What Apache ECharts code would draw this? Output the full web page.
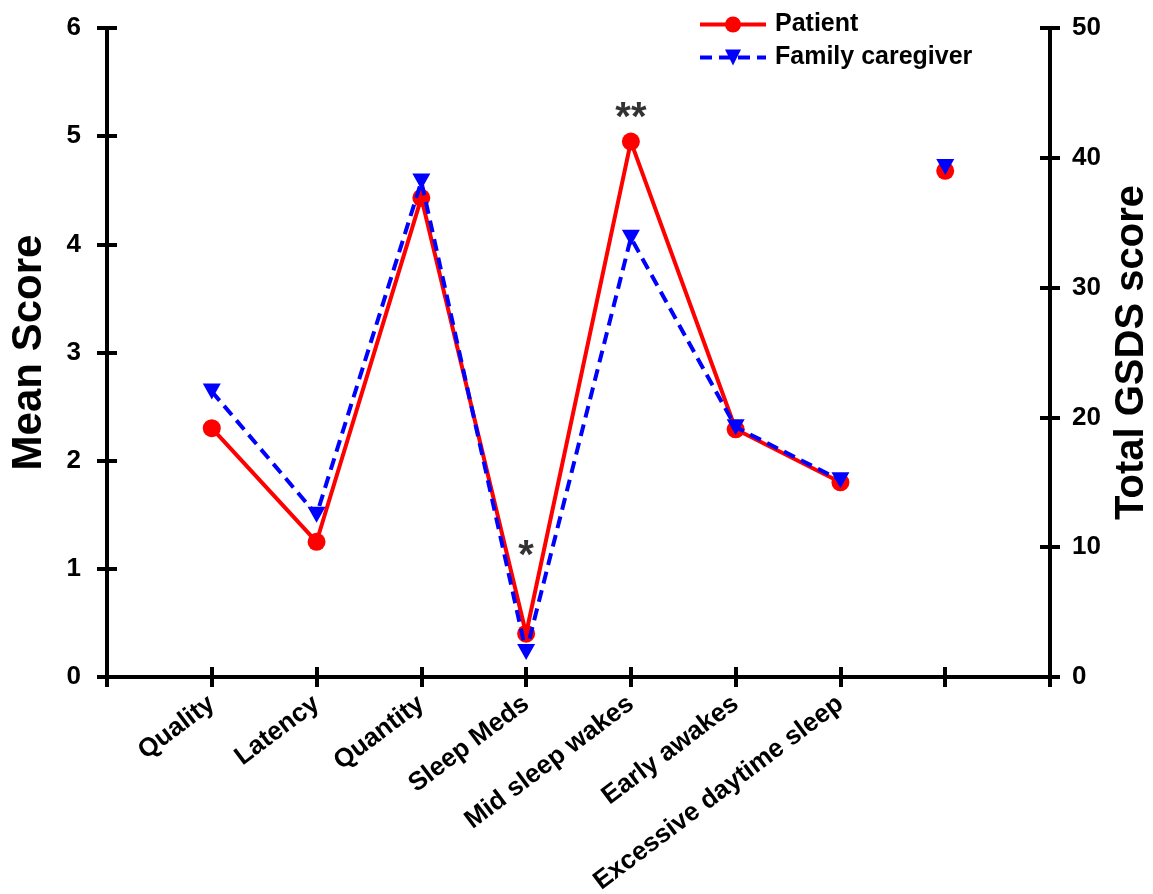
<!DOCTYPE html>
<html>
<head>
<meta charset="utf-8">
<script src="https://cdn.jsdelivr.net/npm/echarts@6/dist/echarts.min.js"></script>
<style>html,body{margin:0;padding:0;background:#fff}#chart{width:1153px;height:894px}</style>
</head>
<body>
<div id="chart"></div>
<script>
// ---- data ----
const categories = ['Quality', 'Latency', 'Quantity', 'Sleep Meds', 'Mid sleep wakes', 'Early awakes', 'Excessive daytime sleep'];
const patientScores = [2.30, 1.25, 4.43, 0.40, 4.95, 2.29, 1.80];
const caregiverScores = [2.64, 1.50, 4.58, 0.23, 4.06, 2.31, 1.82];
const totalGSDSLabelIndex = 8;           // slot on the x axis holding the total score
const patientTotalGSDS = 39.0;
const caregiverTotalGSDS = 39.3;
const sigLabels = ['', '', '', '*', '**', '', ''];
const sigLevels = [null, null, null, 1.11, 5.16, null, null];
const leftAxisRange = [0, 6, 1];
const rightAxisRange = [0, 50, 10];
const xAxisRange = [0, 9, 1];

const FONT = 'Liberation Sans, Arial, sans-serif';
const pts = arr => arr.map((v, i) => [i + 1, v]);
const sigData = sigLevels.map((v, i) => v == null ? null : { value: [i + 1, v], label: { formatter: sigLabels[i] } }).filter(Boolean);

const baseY = (range, pos, withLine) => ({
  type: 'value', position: pos, min: range[0], max: range[1], interval: range[2],
  splitLine: { show: false },
  axisLine: { show: withLine, onZero: false, lineStyle: { color: '#000', width: 4 } }
});

const chart = echarts.init(document.getElementById('chart'));
chart.setOption({
  animation: false,
  backgroundColor: '#fff',
  grid: { left: 107, right: 103, top: 28, bottom: 217, containLabel: false, outerBoundsMode: 'none' },
  legend: {
    orient: 'vertical', left: 693, top: 7, itemWidth: 66, itemHeight: 20, itemGap: 8,
    lineStyle: { width: 4 },
    textStyle: { fontFamily: FONT, fontWeight: 'bold', fontSize: 25, color: '#000', padding: [0, 0, 0, 4] },
    data: ['Patient', 'Family caregiver']
  },
  xAxis: [
    {
      type: 'value', min: xAxisRange[0], max: xAxisRange[1], interval: xAxisRange[2], position: 'bottom',
      splitLine: { show: false },
      axisLine: { onZero: false, lineStyle: { color: '#000', width: 4 } },
      axisTick: { length: 10, lineStyle: { color: '#000', width: 4 } },
      axisLabel: {
        rotate: 37, margin: 24, fontFamily: FONT, fontWeight: 'bold', fontSize: 26, color: '#000',
        formatter: v => categories[v - 1] || '', showMinLabel: true, showMaxLabel: true
      }
    },
    {
      type: 'value', min: xAxisRange[0], max: xAxisRange[1], interval: xAxisRange[2], position: 'bottom',
      splitLine: { show: false }, axisLine: { show: false, onZero: false },
      axisTick: { inside: true, length: 10, lineStyle: { color: '#000', width: 4 } },
      axisLabel: { show: false }
    }
  ],
  yAxis: [
    Object.assign(baseY(leftAxisRange, 'left', true), {
      name: 'Mean Score', nameLocation: 'middle', nameRotate: 90, nameGap: 57,
      nameTextStyle: { fontFamily: FONT, fontWeight: 'bold', fontSize: 42, color: '#000' },
      axisTick: { length: 10, lineStyle: { color: '#000', width: 4 } },
      axisLabel: { margin: 26, fontFamily: FONT, fontWeight: 'bold', fontSize: 26, color: '#000' }
    }),
    Object.assign(baseY(rightAxisRange, 'right', true), {
      name: 'Total GSDS score', nameLocation: 'middle', nameRotate: 90, nameGap: 60,
      nameTextStyle: { fontFamily: FONT, fontWeight: 'bold', fontSize: 40, color: '#000' },
      axisTick: { length: 10, lineStyle: { color: '#000', width: 4 } },
      axisLabel: { margin: 22, fontFamily: FONT, fontWeight: 'bold', fontSize: 26, color: '#000' }
    }),
    Object.assign(baseY(leftAxisRange, 'left', false), {
      axisTick: { inside: true, length: 10, lineStyle: { color: '#000', width: 4 } },
      axisLabel: { show: false }
    }),
    Object.assign(baseY(rightAxisRange, 'right', false), {
      axisTick: { inside: true, length: 10, lineStyle: { color: '#000', width: 4 } },
      axisLabel: { show: false }
    })
  ],
  series: [
    {
      name: 'Patient', type: 'line', xAxisIndex: 0, yAxisIndex: 0,
      data: pts(patientScores),
      symbol: 'circle', symbolSize: 18,
      lineStyle: { color: '#ff0000', width: 4 },
      itemStyle: { color: '#ff0000' },
      z: 3
    },
    {
      name: 'Family caregiver', type: 'line', xAxisIndex: 0, yAxisIndex: 0,
      data: pts(caregiverScores),
      symbol: 'triangle', symbolRotate: 180, symbolSize: [18, 16],
      lineStyle: { color: '#0000ff', width: 4, type: [12, 7] },
      itemStyle: { color: '#0000ff' },
      z: 4
    },
    {
      name: 'Patient', type: 'scatter', xAxisIndex: 0, yAxisIndex: 1,
      data: [[totalGSDSLabelIndex, patientTotalGSDS]],
      symbol: 'circle', symbolSize: 18, itemStyle: { color: '#ff0000', opacity: 1 }, z: 3
    },
    {
      name: 'Family caregiver', type: 'scatter', xAxisIndex: 0, yAxisIndex: 1,
      data: [[totalGSDSLabelIndex, caregiverTotalGSDS]],
      symbol: 'triangle', symbolRotate: 180, symbolSize: [18, 16], itemStyle: { color: '#0000ff', opacity: 1 }, z: 4
    },
    {
      name: 'sig', type: 'scatter', xAxisIndex: 0, yAxisIndex: 0,
      data: sigData, symbolSize: 1, itemStyle: { color: 'rgba(0,0,0,0)' },
      label: { show: true, position: 'inside', fontFamily: FONT, fontWeight: 'bold', fontSize: 40, color: '#000', textBorderWidth: 0 },
      silent: true, z: 5
    }
  ]
});
</script>
</body>
</html>
